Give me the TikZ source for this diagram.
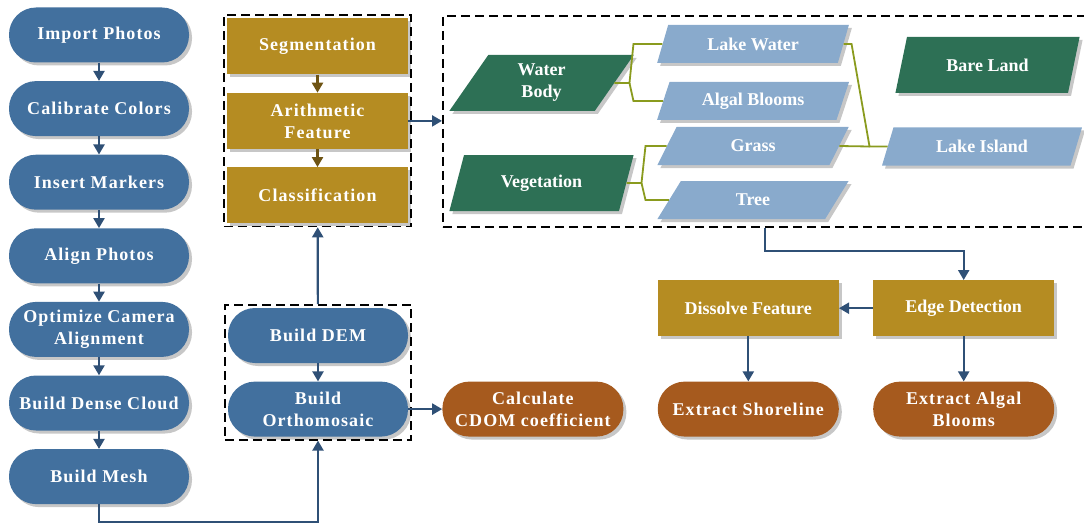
\documentclass[tikz,border=0pt]{standalone}
\usepackage{fontspec}
\setmainfont{Liberation Serif}
\newfontfamily\widefont[LetterSpace=6]{Liberation Serif}
\usetikzlibrary{positioning, shapes.geometric, shadows, fit, arrows.meta}

\definecolor{stepblue}{RGB}{66,112,158}
\definecolor{taskgold}{RGB}{181,140,34}
\definecolor{rust}{RGB}{166,90,30}
\definecolor{forest}{RGB}{45,112,85}
\definecolor{sky}{RGB}{137,170,204}
\definecolor{branch}{RGB}{138,155,30}
\definecolor{arrowblue}{RGB}{47,80,118}
\definecolor{arrowgold}{RGB}{110,84,20}

\newcommand{\wideface}{\widefont\bfseries\fontsize{18}{22}\selectfont}
\newcommand{\plainface}{\bfseries\fontsize{18}{22}\selectfont}

\begin{document}
\begin{tikzpicture}[
    x=1pt, y=-1pt,
    node distance=18.2pt,
    lifted/.style={drop shadow={shadow xshift=3pt, shadow yshift=-3pt, fill=black!22, opacity=1}},
    proc/.style={lifted, fill=stepblue, text=white, rounded corners=27pt, minimum width=180pt, minimum height=55pt, align=center, font=\wideface},
    result/.style={proc, fill=rust, minimum width=181pt},
    task/.style={lifted, fill=taskgold, text=white, minimum width=181pt, minimum height=56pt, align=center, font=\wideface},
    cat/.style={lifted, trapezium, trapezium stretches=true, trapezium left angle=65, trapezium right angle=115, fill=forest, text=white, minimum width=185pt, minimum height=56pt, inner sep=0pt, align=center, font=\plainface},
    subcat/.style={cat, fill=sky, minimum width=192pt, minimum height=38pt},
    groupbox/.style={draw=black, line width=1.6pt, dash pattern=on 9pt off 5pt, inner sep=3pt},
    flow/.style={draw=arrowblue, line width=2.2pt, -{Triangle[length=10pt, width=11pt]}},
    taskflow/.style={flow, draw=arrowgold},
    link/.style={draw=branch, line width=1.8pt}
]
\useasboundingbox (0,0) rectangle (1084,524);

% grosse Klassenbox
\node[groupbox, inner sep=0pt, anchor=north west, minimum width=650pt, minimum height=211pt] (classes) at (442,15) {};

% Bildverarbeitung links
\node[proc] (import) at (99,35) {Import Photos};
\node[proc, below=of import] (calib) {Calibrate Colors};
\node[proc, below=of calib] (markers) {Insert Markers};
\node[proc, below=of markers] (align) {Align Photos};
\node[proc, below=of align] (optim) {Optimize Camera\\Alignment};
\node[proc, below=of optim] (dense) {Build Dense Cloud};
\node[proc, below=of dense] (mesh) {Build Mesh};

% Klassifikation
\node[task] (seg) at (317.5,46.5) {Segmentation};
\node[task, below=18pt of seg] (arith) {Arithmetic\\Feature};
\node[task, below=18pt of arith] (cls) {Classification};

% DEM und Orthomosaik
\node[proc] (dem) at (318,335.5) {Build DEM};
\node[proc, below=of dem] (ortho) {Build\\Orthomosaic};

% Ergebnisse
\node[result, right=34pt of ortho] (cdom) {Calculate\\CDOM coefficient};
\node[result, right=34pt of cdom] (shore) {Extract Shoreline};
\node[result, right=34pt of shore] (algal) {Extract Algal\\Blooms};
\node[task, font=\plainface, above=45pt of shore] (dissolve) {Dissolve Feature};
\node[task, font=\plainface, above=45pt of algal] (edge) {Edge Detection};

% Klassen
\node[cat] (water) at (541.5,83) {Water\\Body};
\node[cat] (veg) at (541.5,183) {Vegetation};
\node[subcat] (lakewater) at (753,44) {Lake Water};
\node[subcat] (bloom) at (753,101) {Algal Blooms};
\node[subcat] (grass) at (753,146) {Grass};
\node[subcat] (tree) at (753,200) {Tree};
\node[cat] (bare) at (987.5,65) {Bare Land};
\node[subcat, minimum width=200pt] (island) at (982,146.5) {Lake Island};

% gestrichelte Gruppen
\node[groupbox, fit=(seg)(cls)] (segbox) {};
\node[groupbox, fit=(dem)(ortho)] (dembox) {};

% Verzweigungen
\coordinate (wj) at ([xshift=15pt]water.east);
\coordinate (vj) at ([xshift=15pt]veg.east);
\coordinate (ij) at ([xshift=-18pt]island.west);
\draw[link] (water.east) -- (wj) -- ([xshift=4pt]wj |- lakewater.west) -- (lakewater.west);
\draw[link] (wj) -- ([xshift=4pt]wj |- bloom.west) -- (bloom.west);
\draw[link] (veg.east) -- (vj) -- ([xshift=4pt]vj |- grass.west) -- (grass.west);
\draw[link] (vj) -- ([xshift=4pt]vj |- tree.west) -- (tree.west);
\draw[link] (lakewater.east) -- ++(8,0) -- (ij) -- (island.west);
\draw[link] (grass.east) -- (ij);

% Pfeile
\foreach \a/\b in {import/calib, calib/markers, markers/align, align/optim, optim/dense, dense/mesh}
    \draw[flow] (\a) -- (\b);
\draw[taskflow] (seg) -- (arith);
\draw[taskflow] (arith) -- (cls);
\draw[flow] (dem) -- (ortho);
\draw[flow] (dembox) -- (segbox);
\draw[flow] (mesh.south) -- ++(0,18) -| (dembox.south);
\draw[flow] (arith.east) -- (arith.east -| classes.west);
\draw[flow] (ortho) -- (cdom);
\draw[flow] ([xshift=323pt]classes.south west) -- ++(0,23) -| (edge.north);
\draw[flow] (edge) -- (dissolve);
\draw[flow] (dissolve) -- (shore);
\draw[flow] (edge) -- (algal);

\end{tikzpicture}
\end{document}
